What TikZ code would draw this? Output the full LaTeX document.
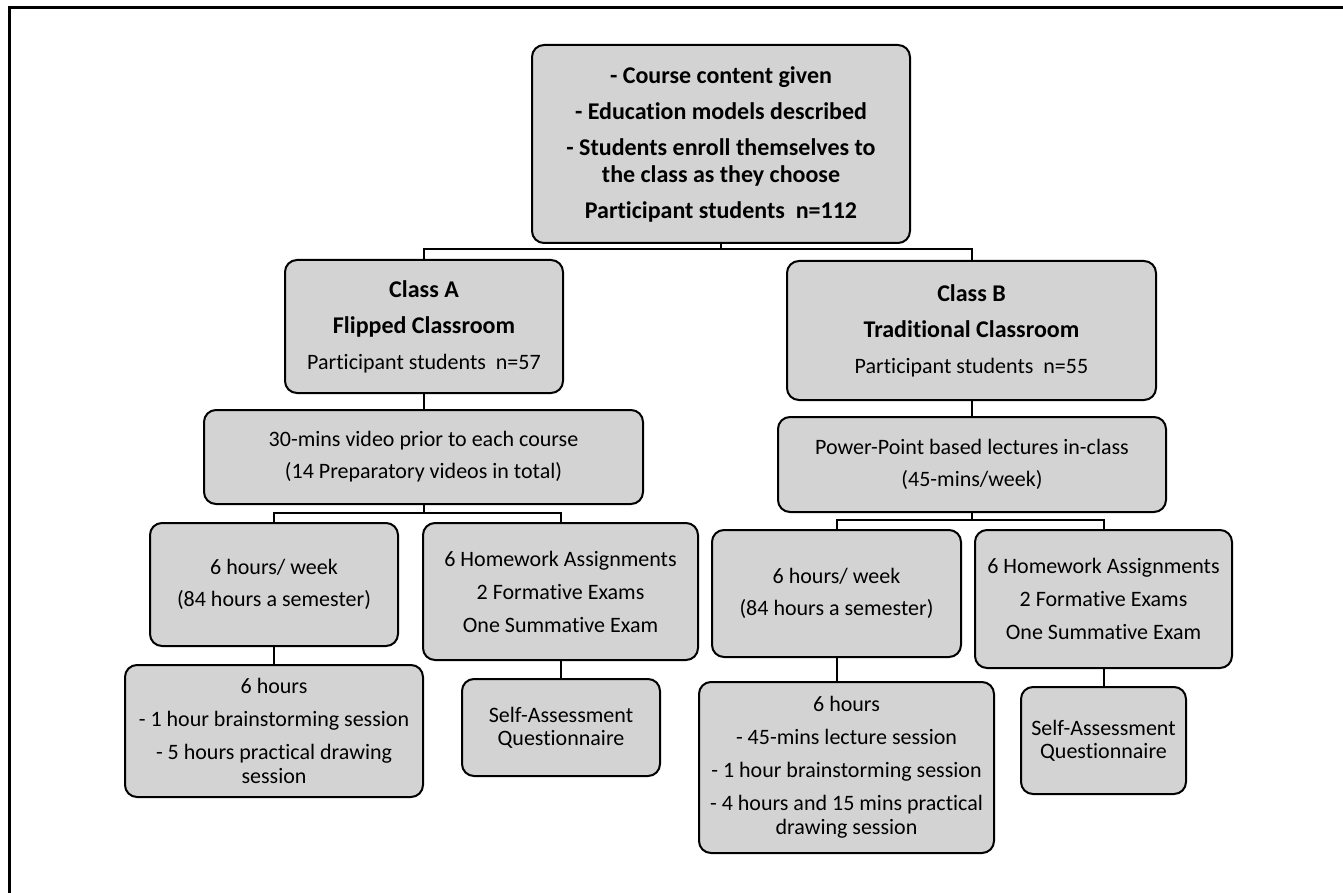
\documentclass[tikz,border=0pt]{standalone}
\usepackage{fontspec}
\setmainfont{Carlito}[Ligatures=NoCommon]
\usepackage{tikz}
\usetikzlibrary{positioning}
\definecolor{boxgray}{RGB}{211,211,211}

\begin{document}
\begin{tikzpicture}[x=0.5pt,y=-0.5pt,
    box/.style={shape=rectangle,rounded corners=6pt,draw=black,line width=1pt,fill=boxgray,align=center,inner sep=0pt,font=\fontsize{11}{13}\selectfont},
    link/.style={draw=black,line width=1pt}]
    \useasboundingbox (0,0) rectangle (1343,893);
    \draw[line width=1.5pt] (9,893) -- (9,8) -- (1343,8);

    \node[box,minimum width=189pt,minimum height=99pt,font=\fontsize{12}{13.5}\selectfont\bfseries] (Top) at (721,144) {- Course content given\\[4.5pt]- Education models described\\[4.5pt]- Students enroll themselves to\\the class as they choose\\[4.5pt]Participant students\ \ n=112};
    \node[box,minimum width=139pt,minimum height=66.5pt] (Class_A) at (424,326.5) {{\fontsize{12}{13}\selectfont\bfseries Class A}\\[5pt]{\fontsize{12}{13}\selectfont\bfseries Flipped Classroom}\\[5pt]Participant students\ \ n=57};
    \node[box,minimum width=184.5pt,minimum height=69.5pt] (Class_B) at (971.5,330.5) {{\fontsize{12}{13}\selectfont\bfseries Class B}\\[5pt]{\fontsize{12}{13}\selectfont\bfseries Traditional Classroom}\\[5pt]Participant students\ \ n=55};

    \node[box,minimum width=219.5pt,minimum height=47pt] (Video_A) at (423.5,457) {30-mins video prior to each course\\[3pt](14 Preparatory videos in total)};
    \node[box,minimum width=194pt,minimum height=47.5pt] (Lect_B) at (972,464.5) {Power-Point based lectures in-class\\[3pt](45-mins/week)};

    \node[box,minimum width=124pt,minimum height=61.5pt] (Week_A) at (274,584.5) {6 hours/ week\\[3pt](84 hours a semester)};
    \node[box,minimum width=137.5pt,minimum height=68.5pt] (Hw_A) at (560.5,591.5) {6 Homework Assignments\\[3.5pt]2 Formative Exams\\[3.5pt]One Summative Exam};
    \node[box,minimum width=124.5pt,minimum height=63.5pt] (Week_B) at (836.5,593.5) {6 hours/ week\\[3pt](84 hours a semester)};
    \node[box,minimum width=128.5pt,minimum height=69pt] (Hw_B) at (1103.5,599) {6 Homework Assignments\\[3.5pt]2 Formative Exams\\[3.5pt]One Summative Exam};

    \node[box,minimum width=149pt,minimum height=66pt] (Hours_A) at (274,731) {6 hours\\[3.5pt]- 1 hour brainstorming session\\[3.5pt]- 5 hours practical drawing\\[-1pt]session};
    \node[box,minimum width=99pt,minimum height=48.5pt] (Self_A) at (561,727.5) {Self-Assessment\\[-1.5pt]Questionnaire};
    \node[box,minimum width=147.5pt,minimum height=85.5pt] (Hours_B) at (846.5,767.5) {6 hours\\[3.5pt]- 45-mins lecture session\\[3.5pt]- 1 hour brainstorming session\\[3.5pt]- 4 hours and 15 mins practical\\[-1pt]drawing session};
    \node[box,minimum width=82.5pt,minimum height=53.5pt] (Self_B) at (1103.5,740.5) {Self-Assessment\\[-1.5pt]Questionnaire};

    \path [link] (Top.south) -- ++(0,5) -| (Class_A.north);
    \path [link] (Top.south) -- ++(0,5) -| (Class_B.north);
    \path [link] (Class_A.south) edge (Class_A.south |- Video_A.north);
    \path [link] (Class_B.south) edge (Class_B.south |- Lect_B.north);

    \path [link] (Video_A.south) -- ++(0,8) -| (Week_A.north);
    \path [link] (Video_A.south) -- ++(0,8) -| (Hw_A.north);
    \path [link] (Lect_B.south) -- ++(0,7) -| (Week_B.north);
    \path [link] (Lect_B.south) -- ++(0,7) -| (Hw_B.north);

    \path [link] (Week_A.south) edge (Week_A.south |- Hours_A.north);
    \path [link] (Hw_A.south) edge (Hw_A.south |- Self_A.north);
    \path [link] (Week_B.south) edge (Week_B.south |- Hours_B.north);
    \path [link] (Hw_B.south) edge (Hw_B.south |- Self_B.north);
\end{tikzpicture}
\end{document}
